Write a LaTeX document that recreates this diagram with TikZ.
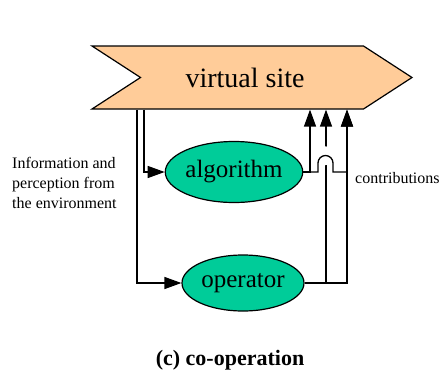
\documentclass[tikz,border=0pt]{standalone}
\usepackage{fontspec}
\setmainfont{Liberation Serif}
\usetikzlibrary{shapes.geometric,shapes.symbols,arrows.meta}

\definecolor{sitepeach}{HTML}{FFCC99}
\definecolor{agentgreen}{HTML}{00CC99}

\tikzset{
  site/.style={draw, line width=1.2pt, fill=sitepeach, signal, signal from=west, signal to=east,
    signal pointer angle=66, minimum width=320pt, minimum height=63pt, inner sep=0pt,
    font=\rmfamily\fontsize{28}{30}\selectfont},
  agent/.style={draw, line width=1.2pt, fill=agentgreen, ellipse, inner sep=0pt,
    font=\rmfamily\fontsize{25}{27}\selectfont},
  wire/.style={line width=1.3pt, -{Triangle[length=17pt,width=12pt]}},
  note/.style={font=\rmfamily\fontsize{16}{20}\selectfont, align=left, inner sep=0pt}
}

\begin{document}
\begin{tikzpicture}[x=1pt, y=1pt]
\useasboundingbox (0,0) rectangle (444,376);

\node[site] (site) at (252,298.5) {virtual site\hspace*{14pt}};
\node[agent, minimum width=118pt, minimum height=61pt] (algorithm) at (234,204) {algorithm};
\node[agent, minimum width=122pt, minimum height=56pt] (operator) at (243,93) {operator};

% what comes in
\node[note, anchor=north west] (info) at (12,219) {Information and\\perception from\\the environment};
\draw[wire] (site.south -| 144,0) |- (algorithm.west);
\draw[wire] (site.south -| 137,0) |- (operator.west);

% what goes back
\node[note, anchor=base west] (contrib) at (355,193) {contributions};
\draw[wire] (operator.east) -| (site.south -| 347,0);
\draw[wire] (operator.east -| 326,0) -- (site.south -| 326,0);
\draw[white, line width=18pt] (318,213) arc[start angle=180, end angle=0, radius=7.5];
\draw[wire] (algorithm.east) -| (site.south -| 310,0);
\draw[wire] (algorithm.east) -- (318,204) -- (318,213) arc[start angle=180, end angle=0, radius=7.5]
  -- (333,204) -| (site.south -| 347,0);

\node[font=\rmfamily\bfseries\fontsize{22}{24}\selectfont, anchor=base] (caption) at (230,11) {(c) co-operation};
\end{tikzpicture}
\end{document}
